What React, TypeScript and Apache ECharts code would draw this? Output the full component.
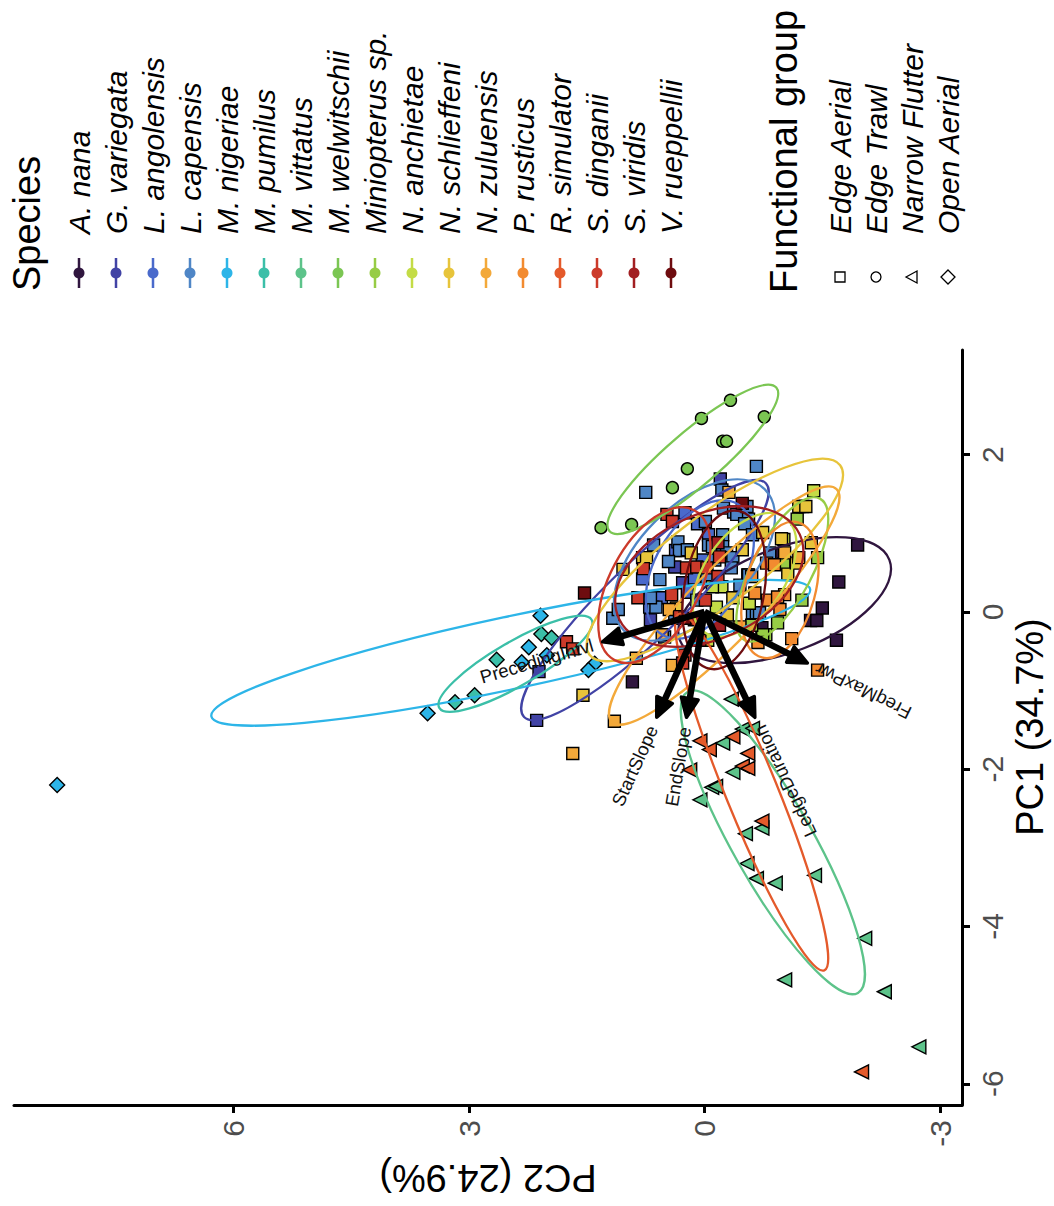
import React, { useEffect, useRef } from 'react';
import * as echarts from 'echarts';

const FONT = '"Liberation Sans", Arial, Helvetica, sans-serif';

// ---------- categories ----------
const SPECIES = [
  'A. nana', 'G. variegata', 'L. angolensis', 'L. capensis', 'M. nigeriae', 'M. pumilus',
  'M. vittatus', 'M. welwitschii', 'Miniopterus sp.', 'N. anchietae', 'N. schlieffeni',
  'N. zuluensis', 'P. rusticus', 'R. simulator', 'S. dinganii', 'S. viridis', 'V. rueppellii',
];
const SPECIES_COLORS = [
  '#30163F', '#4143A5', '#4A6ACB', '#4F86C6', '#2DB5E8', '#3BBFA8',
  '#5DC38A', '#7BC653', '#97CC45', '#C4DC46', '#E7C43B',
  '#F3A93A', '#F28B30', '#E45A2B', '#CC3A2A', '#A21F22', '#6E0C0F',
];
const GROUPS = ['Edge Aerial', 'Edge Trawl', 'Narrow Flutter', 'Open Aerial'];
// functional group index of each species (0 square, 1 circle, 2 triangle, 3 diamond)
const SPECIES_GROUP = [0, 0, 0, 0, 3, 3, 2, 1, 0, 0, 0, 0, 0, 2, 0, 0, 0];

// ---------- tick labels ----------
const PC2_TICKS = [-3, 0, 3, 6];
const PC1_TICKS = [-6, -4, -2, 0, 2];
const PC1_TITLE = 'PC1 (34.7%)';
const PC2_TITLE = 'PC2 (24.9%)';

// ---------- scores: [PC1, PC2] ----------
const A_NANA = [[0.85, -1.95], [0.38, -1.71], [0.05, -1.50], [-0.11, -1.35], [-0.11, -1.43], [-0.36, -1.68], [-0.20, -0.73], [-0.89, 0.92], [0.73, -0.87]];
const G_VARIEGATA = [[1.69, -0.20], [-0.10, 0.69], [0.37, 0.28], [-0.76, 2.11], [-1.38, 2.14], [0.57, 0.38]];
const L_ANGOLENSIS = [[1.26, 0.25], [1.12, 0.09], [0.98, -0.05], [0.78, 0.37], [0.42, 0.79], [0.66, 0.03], [0.43, 0.13], [0.06, 0.70], [0.18, 0.55], [0.25, 0.22], [0.47, -0.55]];
const L_CAPENSIS = [[1.85, -0.66], [1.52, 0.75], [1.55, -0.22], [1.15, -0.01], [1.32, -0.24], [1.27, -0.37], [1.24, -0.41], [1.34, -0.54], [1.18, -0.56], [1.12, -0.51], [0.98, -0.23], [0.98, -0.61], [0.85, 0.65], [0.89, 0.34], [0.78, 0.32], [0.79, 0.22], [0.41, 0.57], [0.64, 0.46], [0.85, -0.05], [0.83, -0.10], [0.83, -0.23], [0.75, -0.28], [0.69, -0.36], [0.56, -0.34], [0.66, -0.13], [0.43, -0.03], [0.34, -0.45], [0.47, -0.56], [0.06, 0.66], [0.06, 0.62], [0.18, 0.69], [-0.08, 0.38], [0.15, 0.10], [-0.08, 1.17], [0.03, 1.10], [-0.32, 0.51], [-0.01, -0.61], [-0.01, -0.66], [-0.01, -0.70], [0.75, -0.83]];
const M_NIGERIAE = [[-0.05, 2.09], [-0.45, 2.24], [-0.64, 2.33], [-0.55, 2.01], [-0.66, 1.40], [-0.74, 1.48], [-1.29, 3.53], [-2.20, 8.25]];
const M_PUMILUS = [[-0.61, 2.65], [-0.28, 2.08], [-0.33, 1.95], [-1.15, 3.18], [-1.06, 2.93]];
const M_VITTATUS = [[-1.11, -0.34], [-1.49, -0.48], [-1.48, -0.61], [-1.67, -0.23], [-2.04, -0.36], [-2.23, -0.09], [-2.22, -0.14], [-2.39, 0.06], [-2.75, -0.73], [-2.82, -0.52], [-3.20, -0.54], [-3.39, -0.66], [-3.45, -0.90], [-3.35, -1.40], [-4.15, -2.04], [-4.68, -1.02], [-4.83, -2.29], [-5.53, -2.73]];
const M_WELWITSCHII = [[2.69, -0.33], [2.46, 0.04], [2.48, -0.76], [2.17, -0.23], [2.17, -0.28], [1.82, 0.22], [1.58, 0.41], [1.11, 0.93], [1.07, 1.32]];
const MINIOPTERUS = [[1.18, -1.18], [0.61, -1.01], [0.69, -1.44], [-0.14, -0.93], [-0.29, -0.78], [0.15, -1.24], [-0.29, -0.74], [-0.17, -0.60]];
const N_ANCHIETAE = [[1.54, -1.39], [0.92, -1.01], [0.32, -0.22], [0.32, -0.10], [0.06, -0.15], [0.11, -0.57], [-0.36, -0.04], [1.34, -1.25]];
const N_SCHLIEFFENI = [[1.34, -1.20], [1.34, -1.29], [1.01, -0.74], [0.88, -1.36], [0.69, 0.79], [0.69, 0.74], [0.54, 1.04], [0.75, 0.17], [0.79, -0.48], [0.48, -1.06], [0.93, -0.98], [0.05, 0.36], [-0.04, -0.29], [0.18, -0.36], [0.62, -1.17], [-1.06, 1.55]];
const N_ZULUENSIS = [[1.52, -0.31], [0.75, -1.02], [0.69, -1.20], [0.03, 0.45], [-0.29, 0.54], [-0.59, 0.87], [-0.68, 0.41], [-1.39, 1.15], [-1.80, 1.68], [-0.19, -0.45]];
const P_RUSTICUS = [[0.45, -0.60], [0.62, -0.79], [0.60, -0.89], [0.15, -0.80], [0.03, -0.96], [0.22, -1.02], [-0.34, -1.11], [-0.39, -0.68], [0.19, -0.93], [0.24, -0.64], [-0.74, -1.44]];
const R_SIMULATOR = [[-1.64, 0.06], [-1.75, -0.06], [-1.59, -0.36], [-1.80, -0.55], [-1.96, -0.48], [-1.99, -0.55], [-2.01, 0.19], [-2.66, -0.73], [-5.85, -2.00]];
const S_DINGANII = [[1.24, 0.48], [1.15, 0.41], [0.55, 0.78], [0.56, 0.23], [0.57, 0.10], [0.56, -0.03], [0.70, -0.19], [0.45, -0.17], [0.18, 0.85], [0.22, 0.42], [-0.06, 0.32], [0.15, -0.01], [-0.38, 1.76], [-0.47, 1.68], [-0.55, 0.25], [-0.65, 0.28]];
const S_VIRIDIS = [[0.88, -0.17], [-0.10, 0.13], [-0.17, -0.19], [-0.36, 0.06]];
const V_RUEPPELLII = [[0.24, 1.53], [1.38, -0.48], [-0.08, 0.25]];

const SPECIES_POINTS = [
  A_NANA, G_VARIEGATA, L_ANGOLENSIS, L_CAPENSIS, M_NIGERIAE, M_PUMILUS, M_VITTATUS,
  M_WELWITSCHII, MINIOPTERUS, N_ANCHIETAE, N_SCHLIEFFENI, N_ZULUENSIS, P_RUSTICUS,
  R_SIMULATOR, S_DINGANII, S_VIRIDIS, V_RUEPPELLII,
];

// ---------- 68% ellipses per species (PC units) ----------
const ELL_PC1 = [0.15, 0.15, 0.54, 0.66, -0.52, -0.66, -2.93, 1.94, 0.54, 0.47, 0.66, 0.08, 0.28, -2.29, 0.34, 0.45, 0.28];
const ELL_PC2 = [-1.02, 0.76, 0.06, 0.13, 2.47, 2.41, -0.87, 0.15, -0.99, -0.51, -0.13, -0.25, -0.96, -0.60, 0.64, -0.06, -0.25];
const ELL_MAJOR = [1.43, 2.14, 0.96, 1.27, 3.90, 1.12, 2.20, 1.40, 1.02, 0.89, 2.0, 2.06, 0.89, 2.45, 1.08, 1.27, 1.02];
const ELL_MINOR = [0.66, 0.48, 0.57, 0.70, 0.46, 0.28, 0.51, 0.34, 0.38, 0.51, 0.57, 0.45, 0.45, 0.33, 0.57, 0.79, 0.51];
// angle of major axis, degrees, in the (PC1, PC2) plane
const ELL_ANGLE = [-69, -46, -30, -45, -78, -60, 29.5, -49.4, -28, -35, -53, -44, -15, 22.2, -28, -65, -10];

// ---------- loadings ----------
const VAR_NAMES = ['PrecedingIntvl', 'StartSlope', 'EndSlope', 'LedgeDuration', 'FreqMaxPwr'];
const VAR_PC1 = [-0.38, -1.34, -1.34, -1.34, -0.65];
const VAR_PC2 = [1.30, 0.61, 0.23, -0.64, -1.31];

const SYMBOLS = ['rect', 'circle', 'triangle', 'diamond'];
const SYMBOL_SIZE = [12, 12, 14, 15];

function legendGraphics() {
  const els: any[] = [];
  const txt = (x: number, y: number, text: string, size: number, italic: boolean) => ({
    type: 'text', x, y, rotation: Math.PI / 2, z: 10,
    style: {
      text, fontSize: size, fontFamily: FONT, fontStyle: italic ? 'italic' : 'normal',
      fill: '#000', align: 'left', verticalAlign: 'middle', textAlign: 'left', textVerticalAlign: 'middle',
    },
  });
  els.push(txt(27, 291, 'Species', 38, false));
  SPECIES.forEach((name, i) => {
    const x = 79 + 37 * i;
    els.push({ type: 'line', shape: { x1: x, y1: 258, x2: x, y2: 288 }, style: { stroke: SPECIES_COLORS[i], lineWidth: 2.5 } });
    els.push({ type: 'circle', shape: { cx: x, cy: 273, r: 5.5 }, style: { fill: SPECIES_COLORS[i] } });
    els.push(txt(x, 234, name, 30, true));
  });
  els.push(txt(784, 293, 'Functional group', 38, false));
  GROUPS.forEach((name, i) => {
    const x = 840 + 36 * i;
    const y = 277;
    const st = { fill: 'none', stroke: '#000', lineWidth: 1.3 };
    if (i === 0) els.push({ type: 'rect', shape: { x: x - 5, y: y - 5, width: 10, height: 10 }, style: st });
    if (i === 1) els.push({ type: 'circle', shape: { cx: x, cy: y, r: 5 }, style: st });
    if (i === 2) els.push({ type: 'polygon', shape: { points: [[x - 6, y], [x + 5, y - 6], [x + 5, y + 6]] }, style: st });
    if (i === 3) els.push({ type: 'polygon', shape: { points: [[x, y - 7], [x + 7, y], [x, y + 7], [x - 7, y]] }, style: st });
    els.push(txt(x, 234, name, 30, true));
  });
  els.push({
    type: 'text', x: 1030, y: 727, rotation: Math.PI / 2,
    style: { text: PC1_TITLE, fontSize: 38, fontFamily: FONT, fill: '#000', align: 'center', verticalAlign: 'middle', textAlign: 'center', textVerticalAlign: 'middle' },
  });
  els.push({
    type: 'text', x: 488, y: 1178, rotation: Math.PI,
    style: { text: PC2_TITLE, fontSize: 38, fontFamily: FONT, fill: '#000', align: 'center', verticalAlign: 'middle', textAlign: 'center', textVerticalAlign: 'middle' },
  });
  return els;
}

export default function App() {
  const ref = useRef<HTMLDivElement>(null);
  useEffect(() => {
    const chart = echarts.init(ref.current!, null, { renderer: 'svg' });

    const scatterSeries = SPECIES.map((name, i) => {
      const g = SPECIES_GROUP[i];
      return {
        type: 'scatter', name, z: 2,
        symbol: SYMBOLS[g], symbolSize: SYMBOL_SIZE[g], symbolRotate: g === 2 ? 90 : 0,
        itemStyle: { color: SPECIES_COLORS[i], borderColor: '#000', borderWidth: 1.4, opacity: 1 },
        data: SPECIES_POINTS[i].map((p) => [p[1], p[0]]),
      };
    });

    const ellipseSeries = {
      type: 'custom', coordinateSystem: 'cartesian2d', z: 3, silent: true,
      encode: { x: 0, y: 1 },
      data: SPECIES.map((_, i) => [ELL_PC2[i], ELL_PC1[i], ELL_MAJOR[i], ELL_MINOR[i], ELL_ANGLE[i], i]),
      renderItem: (_p: any, api: any) => {
        const c2 = api.value(0), c1 = api.value(1), a = api.value(2), b = api.value(3);
        const al = (api.value(4) * Math.PI) / 180;
        const idx = api.value(5);
        const c = api.coord([c2, c1]);
        const p = api.coord([c2 + a * Math.sin(al), c1 + a * Math.cos(al)]);
        const q = api.coord([c2 + b * Math.cos(al), c1 - b * Math.sin(al)]);
        const rx = Math.hypot(p[0] - c[0], p[1] - c[1]);
        const ry = Math.hypot(q[0] - c[0], q[1] - c[1]);
        const rot = Math.atan2(-(p[1] - c[1]), p[0] - c[0]);
        return {
          type: 'ellipse', x: c[0], y: c[1], rotation: rot,
          shape: { cx: 0, cy: 0, rx, ry },
          style: { fill: 'none', stroke: SPECIES_COLORS[idx], lineWidth: 2.3 },
        };
      },
    };

    const arrowSeries = {
      type: 'custom', coordinateSystem: 'cartesian2d', z: 4, silent: true,
      encode: { x: 0, y: 1 },
      data: VAR_NAMES.map((_, i) => [VAR_PC2[i], VAR_PC1[i], i]),
      renderItem: (_p: any, api: any) => {
        const o = api.coord([0, 0]);
        const t = api.coord([api.value(0), api.value(1)]);
        const name = VAR_NAMES[api.value(2)];
        const dx = t[0] - o[0], dy = t[1] - o[1];
        const len = Math.hypot(dx, dy);
        const ux = dx / len, uy = dy / len;
        const nx = -uy, ny = ux;
        const hl = 19, hw = 8.5;
        const gap = 10;
        const rot = Math.atan2(dy, -dx);
        const base = [t[0] - ux * hl, t[1] - uy * hl];
        return {
          type: 'group',
          children: [
            { type: 'line', shape: { x1: o[0], y1: o[1], x2: base[0] + ux * 4, y2: base[1] + uy * 4 }, style: { stroke: '#000', lineWidth: 6.5, lineCap: 'butt' } },
            {
              type: 'polygon',
              shape: { points: [[base[0] + nx * hw, base[1] + ny * hw], [t[0], t[1]], [base[0] - nx * hw, base[1] - ny * hw]] },
              style: { stroke: '#000', fill: '#000', lineWidth: 3.5, lineJoin: 'round' },
            },
            {
              type: 'text', x: t[0] + ux * gap, y: t[1] + uy * gap, rotation: rot, z2: 10,
              style: { text: name, fontSize: 18.5, fontFamily: FONT, fill: '#111', align: 'right', verticalAlign: 'middle', textAlign: 'right', textVerticalAlign: 'middle' },
            },
          ],
        };
      },
    };

    const axisCommon = {
      type: 'value',
      splitLine: { show: false },
      axisLine: { show: true, onZero: false, lineStyle: { color: '#000', width: 3 } },
    };

    chart.setOption({
      animation: false,
      grid: { left: 14, right: 92, top: 350, bottom: 101, containLabel: false },
      xAxis: {
        ...axisCommon, min: -3.28, max: 8.80, inverse: true, position: 'bottom',
        axisTick: { show: true, length: 8, lineStyle: { color: '#000', width: 3 }, customValues: PC2_TICKS },
        axisLabel: { rotate: 90, fontSize: 30, color: '#4D4D4D', fontFamily: FONT, margin: 15, customValues: PC2_TICKS },
      },
      yAxis: {
        ...axisCommon, min: -6.27, max: 3.33, position: 'right',
        axisTick: { show: true, length: 8, lineStyle: { color: '#000', width: 3 }, customValues: PC1_TICKS },
        axisLabel: { rotate: 90, fontSize: 30, color: '#4D4D4D', fontFamily: FONT, margin: 15, customValues: PC1_TICKS },
      },
      series: [...scatterSeries, ellipseSeries, arrowSeries],
      graphic: legendGraphics(),
    });
    return () => chart.dispose();
  }, []);
  return <div ref={ref} style={{ position: 'fixed', left: 0, top: 0, width: 1054, height: 1206, background: '#fff' }} />;
}
